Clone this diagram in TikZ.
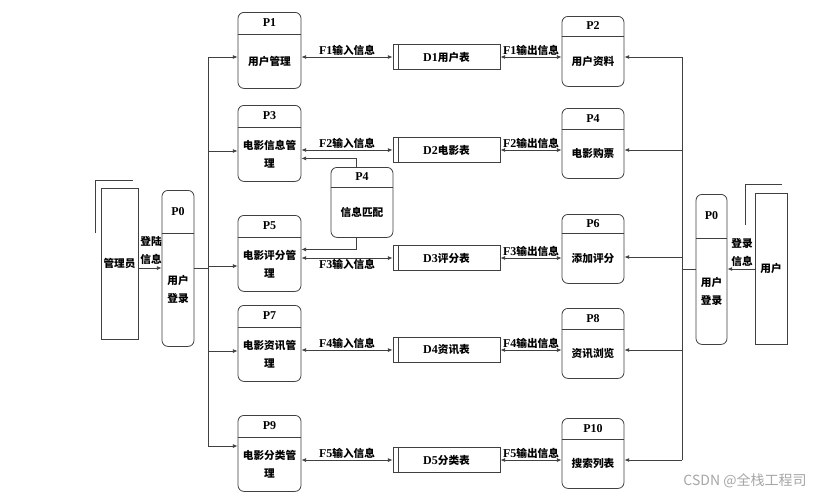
\documentclass[tikz,border=0pt]{standalone}
\usepackage{fontspec}
\setmainfont{Liberation Serif}
\newfontfamily\cjk{Noto Sans CJK SC}
\usetikzlibrary{arrows.meta,calc}
\newcommand{\zh}[1]{{\cjk\bfseries\fontsize{8}{13.5}\selectfont #1}}

\tikzset{
  ln/.style={draw=black!75, line width=0.6pt},
  proc/.style={ln, rounded corners=4.5pt, inner sep=0pt},
  store/.style={ln, minimum width=80.25pt, minimum height=18.75pt, inner sep=0pt, font=\fontsize{9}{13.5}\selectfont\bfseries},
  ent/.style={ln, inner sep=0pt},
  lbl/.style={font=\fontsize{9}{13.5}\selectfont\bfseries, inner sep=1pt, align=center},
  arr/.style={ln, -{Latex[length=3.5pt,width=3pt]}},
  dbl/.style={ln, {Latex[length=3.5pt,width=3pt]}-{Latex[length=3.5pt,width=3pt]}},
}

\begin{document}
\begin{tikzpicture}[x=0.75pt,y=-0.75pt]
	\fill[white] (0,0) rectangle (824,497);
	\useasboundingbox (0,0) rectangle (824,497);

	% processes: name / x / top / width / height / header / title / text
	\foreach \nm/\cx/\yt/\bw/\bh/\hdr/\ttl/\txt in {
		p1/269.5/12/63/76/22/P1/{\zh{用户管理}},
		p3/269.5/105/63/76/22/P3/{\zh{电影信息管}\\\zh{理}},
		p5/269.5/215/63/76/22/P5/{\zh{电影评分管}\\\zh{理}},
		p7/269.5/305/63/76/22/P7/{\zh{电影资讯管}\\\zh{理}},
		p9/269.5/415/63/76/22/P9/{\zh{电影分类管}\\\zh{理}},
		p2/593/16/62/70/20/P2/{\zh{用户资料}},
		p4/593/108/62/70/21/P4/{\zh{电影购票}},
		p6/593/214/62/69/19/P6/{\zh{添加评分}},
		p8/593/308/62/70/21/P8/{\zh{资讯浏览}},
		p10/593/418/62/70/21/P10/{\zh{搜索列表}},
		pm/362/167/62/70/20/P4/{\zh{信息匹配}},
		p0a/178/190/32/156/43/P0/{\zh{用户}\\\zh{登录}},
		p0u/711.5/194/31/150/44/P0/{\zh{用户}\\\zh{登录}}%
	}{
		\node[proc, anchor=north, minimum width=\bw*0.75pt, minimum height=\bh*0.75pt] (\nm) at (\cx,\yt) {};
		\draw[ln] ([yshift=-\hdr*0.75pt]\nm.north west) -- ([yshift=-\hdr*0.75pt]\nm.north east);
		\node[lbl] (\nm-t) at ([yshift=-\hdr*0.375pt]\nm.north) {\ttl};
		\node[lbl] (\nm-b) at ($([yshift=-\hdr*0.75pt]\nm.north)!0.5!(\nm.south)$) {\txt};
	}

	% external entities
	\node[ent, minimum width=27.75pt, minimum height=113.25pt] (adm) at (119.5,263.5) {\zh{管理员}};
	\draw[ln] (95,233) -- (95,180) -- (133,180);
	\node[ent, minimum width=24pt, minimum height=113.25pt] (usr) at (771,268.5) {\zh{用户}};
	\draw[ln] (745,225) -- (745,184) -- (782,184);

	% login
	\coordinate (la) at (208,268);
	\coordinate (ra) at (682,269);
	\draw[arr] (adm.east |- la) -- (p0a.west |- la);
	\node[lbl] (lgin) at (151,250) {\zh{登陆}\\\zh{信息}};
	\draw[arr] (usr.west |- ra) -- (p0u.east |- ra);
	\node[lbl] (rgin) at (742,252) {\zh{登录}\\\zh{信息}};
	\draw[ln] (p0a.east |- la) -- (la);
	\draw[ln] (p0u.west |- ra) -- (ra);

	% trunks
	\coordinate (ltop) at (208,57);
	\coordinate (lbot) at (208,446);
	\coordinate (rtop) at (682,57);
	\coordinate (rbot) at (682,460);
	\draw[ln] (ltop) -- (lbot);
	\draw[ln] (rtop) -- (rbot);
	\foreach \nm/\yy in {p1/57,p3/151,p5/266,p7/351,p9/446}{
		\coordinate (lb) at (208,\yy);
		\draw[arr] (lb) -- (\nm.west |- lb);
	}
	\foreach \nm/\yy in {p2/57,p4/150,p6/257,p8/350,p10/460}{
		\coordinate (rb) at (682,\yy);
		\draw[arr] (rb) -- (\nm.east |- rb);
	}

	% data stores and flows
	\foreach \k/\yy/\lp/\rp/\tbl/\where in {
		1/57/p1/p2/{用户表}/above,
		2/150/p3/p4/{电影表}/above,
		3/258/p5/p6/{评分表}/below,
		4/350/p7/p8/{资讯表}/above,
		5/460/p9/p10/{分类表}/above%
	}{
		\node[store] (d\k) at (446.5,\yy) {D\k\zh{\tbl}};
		\draw[ln] ([xshift=4.5pt]d\k.north west) -- ([xshift=4.5pt]d\k.south west);
		\draw[dbl] (\lp.east |- d\k.west) -- node[lbl,\where] (fi\k) {F\k\zh{输入信息}} (d\k.west);
		\draw[dbl] (d\k.east) -- node[lbl,above] (fo\k) {F\k\zh{输出信息}} (\rp.west |- d\k.east);
	}

	% matching
	\draw[arr] ([xshift=-4.5pt]pm.north) |- ([yshift=-11.25pt]p3.east);
	\draw[arr] ([xshift=-4.5pt]pm.south) |- ([yshift=3pt]p5.east);

	\node[text=black!35, font=\cjk\fontsize{10.5}{12}\selectfont] (wm) at (745,481) {CSDN @全栈工程司};
\end{tikzpicture}
\end{document}
